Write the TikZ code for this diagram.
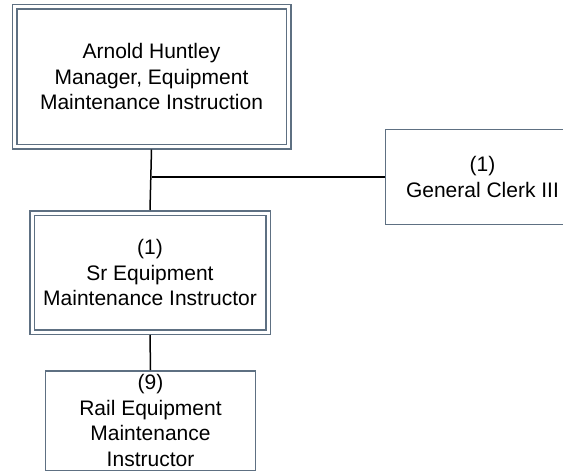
\documentclass[tikz,border=0pt]{standalone}
\usepackage{fontspec}
\setmainfont{Liberation Sans}
\definecolor{boxline}{RGB}{94,112,130}
\tikzset{
  x=1pt, y=-1pt,
  box/.style={rectangle, draw=boxline, line width=1.5pt, fill=white, inner sep=0pt,
    align=center, font=\fontsize{21}{25.5}\selectfont, text=black},
  dbox/.style={box, double=white, double distance=3pt, outer sep=3pt},
  sbox/.style={box, outer sep=0.75pt},
  link/.style={draw=black, line width=1.5pt}
}
\begin{document}
\begin{tikzpicture}
\clip (0,0) rectangle (563,472);
\fill[white] (0,0) rectangle (563,472);
\node[dbox, minimum width=274pt, minimum height=140pt] (top) at (151.5,76.5)
  {Arnold Huntley\\Manager, Equipment\\Maintenance Instruction};
\node[sbox, minimum width=194pt, minimum height=95pt] (clerk) at (482.5,177)
  {(1)\\General Clerk III};
\node[dbox, minimum width=236pt, minimum height=119pt] (sr) at (150,272.5)
  {(1)\\Sr Equipment\\Maintenance Instructor};
\node[sbox, minimum width=210pt, minimum height=99.5pt] (rail) at (150.5,420.5)
  {(9)\\Rail Equipment\\Maintenance\\Instructor};
\draw[link] (top.south) -- (sr.north);
\draw[link] (clerk.west) -- (clerk.west -| top.south);
\draw[link] (sr.south) -- (rail.north);
\end{tikzpicture}
\end{document}
